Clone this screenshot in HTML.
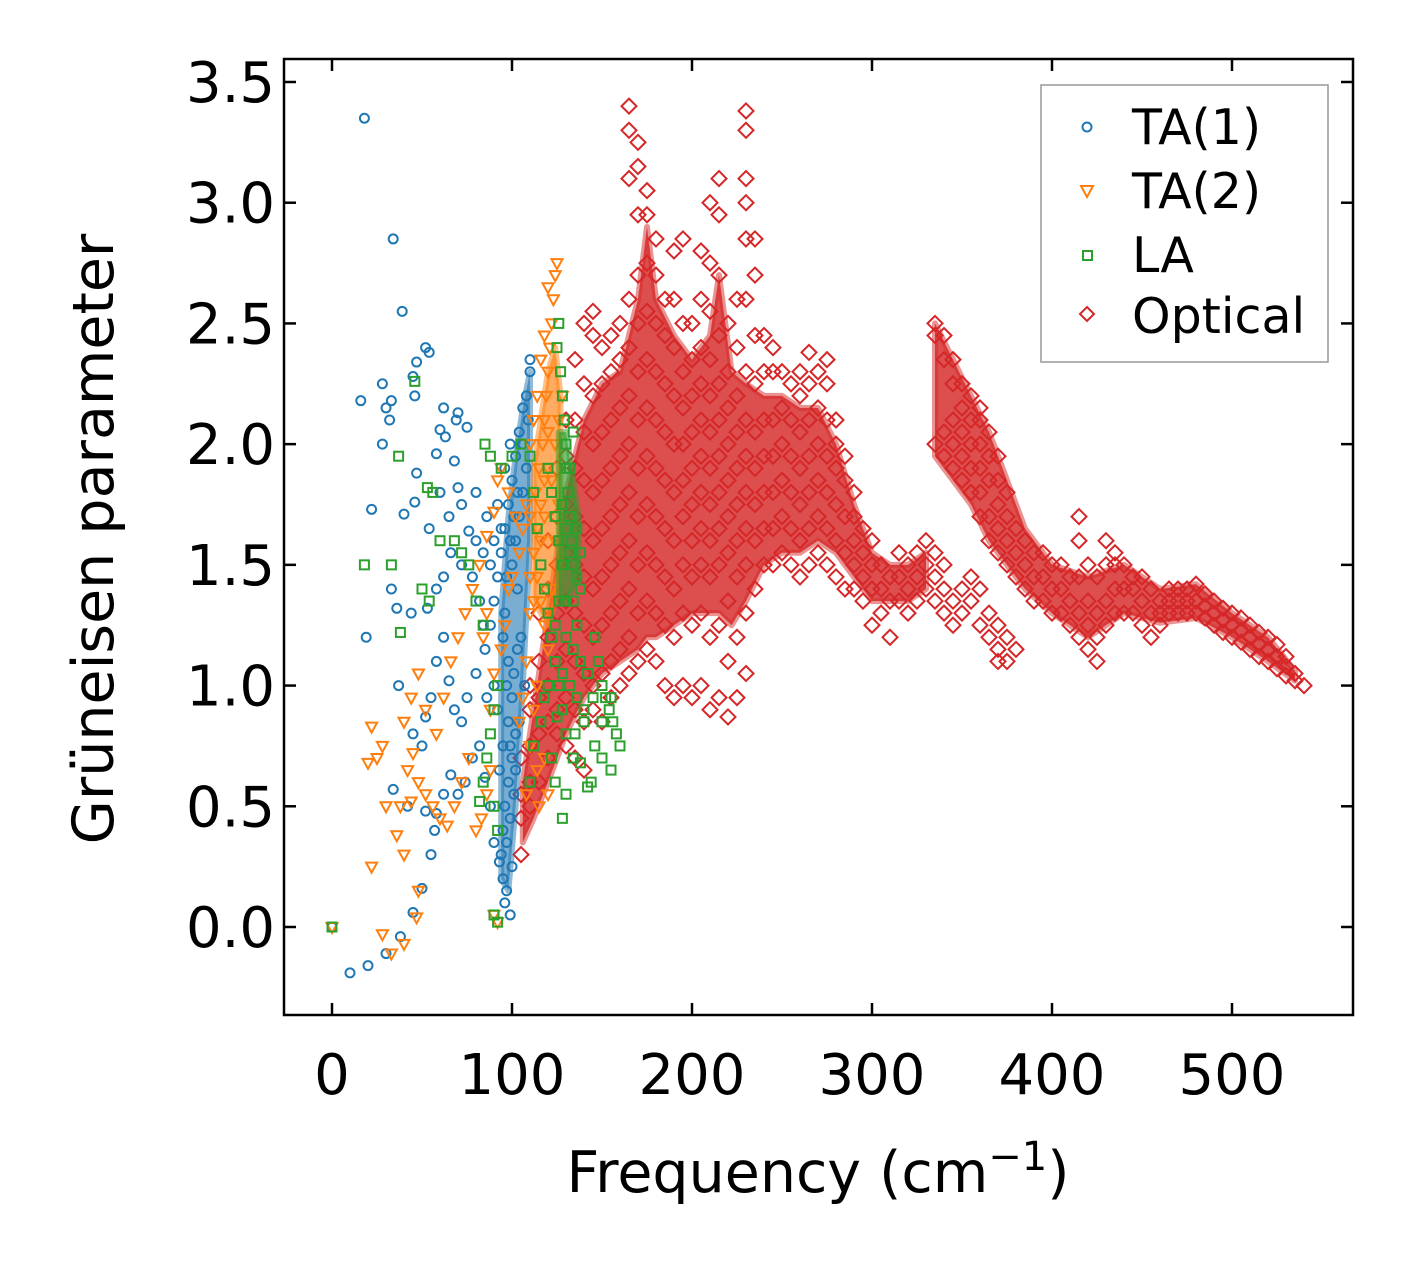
<!DOCTYPE html>
<html><head><meta charset="utf-8">
<style>
html,body{margin:0;padding:0;background:#fff;}
svg{display:block;font-family:"DejaVu Sans","Liberation Sans",sans-serif;}
</style></head>
<body>
<svg id="chart" width="1413" height="1264" viewBox="0 0 1413 1264" xmlns="http://www.w3.org/2000/svg">
<rect x="0" y="0" width="1413" height="1264" fill="#fff"/>
<defs><clipPath id="clip"><rect x="284" y="59" width="1069" height="956"/></clipPath></defs>
<g id="marks" clip-path="url(#clip)"></g>
<rect x="284" y="59" width="1069" height="956" fill="none" stroke="#000" stroke-width="2.5"/>
<g id="axes"></g>
<text x="818" y="1192" font-size="57" text-anchor="middle">Frequency (cm<tspan dy="-22" font-size="40">−1</tspan><tspan dy="22">)</tspan></text>
<text transform="translate(113,539) rotate(-90)" font-size="57" text-anchor="middle">Grüneisen parameter</text>
<g>
<rect x="1041" y="85" width="287" height="277" fill="#fff" stroke="#999" stroke-width="1.5"/>
<circle cx="1087" cy="127" r="4.5" fill="none" stroke="#1f77b4" stroke-width="2"/>
<text x="1132" y="144" font-size="49">TA(1)</text>
<path d="M1081,186 L1093,186 L1087,197 Z" fill="none" stroke="#ff7f0e" stroke-width="2"/>
<text x="1132" y="208" font-size="49">TA(2)</text>
<rect x="1083" y="251" width="9" height="9" fill="none" stroke="#2ca02c" stroke-width="2"/>
<text x="1132" y="272" font-size="49">LA</text>
<path d="M1087,307 L1094,314 L1087,321 L1080,314 Z" fill="none" stroke="#d62728" stroke-width="2"/>
<text x="1132" y="333" font-size="49">Optical</text>
</g>
</svg>
<script>
const xTicks=[0,100,200,300,400,500];
const yTicks=[0.0,0.5,1.0,1.5,2.0,2.5,3.0,3.5];
const ta1=[[0,0],[10,-0.19],[20,-0.16],[30,-0.11],[38,-0.04],[45,0.06],[50,0.16],[55,0.3],[57,0.4],[18,3.35],[34,2.85],[39,2.55],[16,2.18],[28,2.25],[30,2.15],[33,2.18],[32,2.1],[28,2.0],[22,1.73],[52,2.4],[54,2.38],[47,2.34],[45,2.28],[46,2.2],[60,2.06],[62,2.15],[69,2.1],[70,2.13],[58,1.96],[63,2.03],[75,2.07],[47,1.88],[40,1.71],[46,1.76],[54,1.65],[60,1.8],[65,1.7],[70,1.82],[68,1.93],[72,1.75],[76,1.64],[80,1.6],[84,1.55],[88,1.5],[78,1.45],[72,1.5],[66,1.55],[62,1.45],[58,1.4],[53,1.32],[44,1.3],[36,1.32],[33,1.4],[19,1.2],[37,1.0],[45,0.8],[50,0.75],[52,0.87],[55,0.95],[58,1.1],[62,1.2],[65,1.02],[68,0.9],[72,0.85],[75,0.95],[80,1.05],[85,1.15],[88,1.25],[90,1.35],[92,1.45],[94,1.55],[96,1.65],[98,1.75],[100,1.85],[102,1.95],[104,2.05],[106,2.15],[108,2.2],[110,2.3],[110,2.35],[96,1.3],[98,1.1],[100,0.95],[102,0.8],[100,0.7],[98,0.6],[96,0.5],[95,0.4],[94,0.3],[95,0.2],[96,0.1],[97,0.15],[93,0.27],[90,0.35],[88,0.5],[85,0.62],[82,0.75],[78,0.7],[74,0.6],[70,0.55],[66,0.63],[62,0.55],[58,0.47],[52,0.48],[42,0.5],[34,0.57],[100,1.5],[102,1.6],[104,1.7],[106,1.8],[108,1.9],[103,1.4],[105,1.2],[107,1.0],[104,0.85],[101,0.55],[99,0.45],[97,0.35],[92,0.9],[90,1.0],[86,0.95],[84,1.25],[82,1.35],[92,1.75],[94,1.65],[90,1.6],[86,1.7],[80,1.8],[96,1.9],[99,2.0],[106,2.0],[109,2.1],[103,1.15],[101,1.05],[98,0.85],[95,0.75],[93,0.65],[100,0.25],[99,0.05],[97,1.45],[99,1.6],[101,1.7],[103,1.8],[95,1.2],[97,1.0],[99,0.75],[102,0.65]];
const ta2=[[0,0],[22,0.25],[28,-0.03],[33,-0.11],[40,-0.07],[47,0.04],[48,0.15],[40,0.3],[36,0.38],[38,0.5],[44,0.52],[30,0.5],[25,0.7],[20,0.68],[22,0.83],[28,0.75],[40,0.85],[42,0.65],[45,0.72],[48,0.6],[52,0.55],[56,0.5],[60,0.45],[64,0.42],[68,0.5],[72,0.6],[76,0.7],[80,0.4],[83,0.45],[86,0.55],[88,0.65],[62,0.95],[66,1.1],[70,1.2],[74,1.3],[78,1.4],[82,1.5],[86,1.62],[90,1.72],[92,1.85],[94,1.9],[98,1.8],[102,1.7],[106,1.65],[110,1.7],[113,1.8],[115,1.9],[117,2.0],[118,2.1],[119,2.2],[120,2.3],[121,2.4],[122,2.5],[123,2.6],[124,2.7],[125,2.75],[120,2.65],[118,2.45],[116,2.35],[114,2.2],[112,2.1],[110,2.0],[112,1.55],[114,1.45],[116,1.35],[118,1.25],[120,1.15],[122,1.4],[124,1.6],[126,1.75],[110,1.3],[108,1.1],[106,0.95],[104,0.85],[110,0.75],[114,0.65],[118,0.7],[120,0.55],[115,0.5],[108,0.55],[58,0.8],[52,0.9],[48,1.05],[44,0.95],[86,1.3],[84,1.2],[88,0.9],[90,1.05],[94,1.15],[96,1.25],[98,1.4],[100,1.45],[104,1.55],[108,1.75],[120,1.9],[122,1.85],[124,2.0],[126,2.1],[128,2.2],[116,1.6],[118,1.7],[112,0.9],[114,1.0],[92,0.02],[90,0.05],[116,1.75],[118,1.85],[120,2.05],[114,1.65],[112,1.35],[110,1.45]];
const la=[[0,0],[18,1.5],[33,1.5],[38,1.22],[37,1.95],[46,2.26],[53,1.82],[56,1.8],[50,1.4],[54,1.35],[60,1.6],[68,1.6],[72,1.55],[76,1.5],[80,1.35],[84,1.25],[85,2.0],[88,1.95],[94,1.9],[92,1.0],[90,0.9],[88,0.8],[86,0.7],[82,0.52],[84,0.6],[90,0.5],[92,0.4],[90,0.05],[92,0.02],[100,1.95],[105,2.0],[110,1.95],[112,1.8],[114,1.65],[116,1.5],[118,1.4],[120,1.3],[122,1.2],[124,1.1],[126,1.0],[128,0.9],[126,2.5],[125,2.4],[127,2.3],[128,2.2],[129,2.1],[130,2.0],[130,1.9],[131,1.8],[132,1.7],[133,1.6],[134,1.5],[136,1.45],[138,1.4],[130,1.35],[128,1.5],[126,1.6],[124,1.7],[122,1.8],[120,1.9],[124,1.25],[130,1.2],[134,1.15],[138,1.1],[142,1.05],[146,1.2],[148,1.1],[150,1.0],[152,0.95],[154,0.9],[156,0.85],[158,0.8],[160,0.75],[155,0.65],[150,0.7],[146,0.75],[144,0.6],[142,0.58],[138,0.68],[134,0.7],[130,0.55],[128,0.45],[124,0.6],[122,0.7],[125,0.87],[130,0.8],[135,0.8],[140,0.9],[145,0.95],[150,0.85],[155,0.95],[132,1.0],[136,0.95],[140,0.85],[128,1.05],[120,1.0],[118,0.95],[116,0.85],[112,0.75],[110,0.6],[126,1.35],[132,1.9],[134,2.05],[136,1.65],[138,1.55],[128,1.75],[130,1.65],[132,1.55],[134,1.35],[136,1.25]];
// dense cores (x, lower edge, upper edge) of each cloud
const coreX=[106,112,120,130,140,150,160,170,175,180,190,200,210,215,222,230,240,250,260,270,280,290,300,310,320,330];
const coreLo=[0.35,0.45,0.6,0.8,0.95,1.05,1.1,1.15,1.2,1.2,1.25,1.3,1.3,1.3,1.25,1.35,1.5,1.55,1.55,1.6,1.55,1.45,1.35,1.35,1.35,1.4];
const coreHi=[0.6,0.9,1.3,1.8,2.1,2.25,2.3,2.6,2.9,2.6,2.45,2.35,2.45,2.7,2.3,2.25,2.2,2.2,2.15,2.15,2.0,1.75,1.55,1.5,1.5,1.55];
const core2X=[335,345,355,365,375,385,400,420,440,460,480,500,520,535];
const core2Lo=[1.95,1.85,1.75,1.6,1.5,1.4,1.3,1.2,1.3,1.26,1.28,1.2,1.1,1.02];
const core2Hi=[2.5,2.35,2.2,2.05,1.85,1.65,1.5,1.45,1.5,1.4,1.42,1.3,1.2,1.06];
const ta1CoreX=[94,98,102,106,110];
const ta1CoreLo=[0.2,0.15,0.5,1.0,1.6];
const ta1CoreHi=[1.3,1.7,1.95,2.15,2.3];
const ta2CoreX=[112,116,120,124,127];
const ta2CoreLo=[1.35,1.3,1.25,1.35,1.5];
const ta2CoreHi=[1.9,2.1,2.3,2.4,2.2];
const laCoreX=[126,130,134,137];
const laCoreLo=[1.35,1.35,1.4,1.45];
const laCoreHi=[2.05,2.05,1.85,1.7];
const opticalX=[105,110,115,120,125,130,135,140,145,150,155,160,165,170,175,180,185,190,195,200,205,210,215,220,225,230,235,240,245,250,255,260,265,270,275,280,285,290,295,300,305,310,315,320,325,330,335,340,345,350,355,360,365,370,375,380,385,390,395,400,405,410,415,420,425,430,435,440,445,450,455,460,465,470,475,480,485,490,495,500,505,510,515,520,525,530,535,540];
const opticalY=[[0.3,0.45,0.55,0.7],[0.5,0.6,0.75,0.9,1.0],[0.6,0.8,0.95,1.1,1.3],[0.7,0.85,1.0,1.2,1.4,1.6],[0.8,0.9,1.1,1.3,1.5,1.7,1.9],[0.75,0.95,1.15,1.35,1.55,1.75,1.95,2.1],[0.7,0.9,1.1,1.3,1.5,1.7,1.9,2.1,2.35],[0.65,0.85,1.05,1.25,1.45,1.65,1.85,2.05,2.25,2.5],[0.9,1.0,1.2,1.4,1.6,1.8,2.0,2.2,2.45,2.55],[0.85,1.05,1.25,1.45,1.65,1.85,2.05,2.25,2.4],[0.95,1.1,1.3,1.5,1.7,1.9,2.1,2.3,2.45],[1.0,1.15,1.35,1.55,1.75,1.95,2.15,2.35,2.5],[1.05,1.2,1.4,1.6,1.8,2.0,2.2,2.4,2.6,3.1,3.3,3.4],[1.1,1.3,1.5,1.7,1.9,2.1,2.3,2.5,2.7,2.95,3.15,3.25],[1.15,1.35,1.55,1.75,1.95,2.15,2.35,2.55,2.75,2.95,3.05],[1.1,1.3,1.5,1.7,1.9,2.1,2.3,2.5,2.7,2.85],[1.0,1.25,1.45,1.65,1.85,2.05,2.25,2.45,2.6],[0.95,1.2,1.4,1.6,1.8,2.0,2.2,2.4,2.6,2.8],[1.0,1.3,1.5,1.7,1.85,2.0,2.15,2.3,2.5,2.85],[0.95,1.25,1.45,1.6,1.75,1.9,2.05,2.2,2.35,2.5],[1.0,1.3,1.5,1.65,1.8,1.95,2.1,2.25,2.4,2.6,2.8],[0.9,1.2,1.45,1.6,1.75,1.9,2.05,2.2,2.35,2.55,2.75,3.0],[0.95,1.25,1.5,1.65,1.8,1.95,2.1,2.25,2.45,2.7,2.95,3.1],[0.87,1.1,1.35,1.55,1.7,1.85,2.0,2.15,2.3,2.5],[0.95,1.2,1.45,1.6,1.75,1.9,2.05,2.2,2.4,2.6],[1.05,1.3,1.5,1.65,1.8,1.95,2.1,2.3,2.6,2.85,3.0,3.1,3.3,3.38],[1.4,1.6,1.75,1.9,2.05,2.25,2.45,2.7,2.85],[1.5,1.65,1.8,1.95,2.1,2.3,2.45],[1.5,1.65,1.8,1.95,2.1,2.3,2.4],[1.55,1.7,1.85,2.0,2.15,2.3],[1.5,1.65,1.8,1.95,2.1,2.25],[1.45,1.6,1.75,1.9,2.05,2.2,2.3],[1.5,1.65,1.8,1.95,2.1,2.25,2.38],[1.55,1.7,1.85,2.0,2.15,2.3],[1.5,1.65,1.8,1.95,2.1,2.25,2.35],[1.45,1.6,1.75,1.9,2.0,2.1],[1.4,1.55,1.7,1.85,1.95],[1.4,1.5,1.6,1.7,1.8],[1.35,1.45,1.55,1.65],[1.25,1.4,1.5,1.6],[1.3,1.4,1.5],[1.2,1.35,1.45],[1.35,1.45,1.55],[1.3,1.4,1.5],[1.35,1.45,1.55],[1.4,1.5,1.6],[1.35,1.45,1.55,2.0,2.45,2.5],[1.3,1.4,1.5,1.95,2.05,2.35,2.45],[1.25,1.35,1.9,2.0,2.1,2.25,2.35],[1.3,1.4,1.85,1.95,2.05,2.15,2.25],[1.35,1.45,1.8,1.9,2.0,2.1,2.2],[1.25,1.4,1.7,1.8,1.9,2.0,2.1,2.15],[1.2,1.3,1.6,1.7,1.85,1.95,2.05],[1.1,1.15,1.25,1.55,1.65,1.75,1.85,1.95],[1.1,1.2,1.5,1.6,1.7,1.8],[1.15,1.45,1.55,1.65],[1.4,1.5,1.6],[1.35,1.45,1.55],[1.35,1.45,1.55],[1.3,1.4,1.5],[1.3,1.4,1.5],[1.25,1.35,1.45],[1.2,1.3,1.45,1.6,1.7],[1.15,1.25,1.35,1.5],[1.1,1.2,1.3,1.45],[1.25,1.35,1.5,1.6],[1.3,1.4,1.5,1.55],[1.3,1.4,1.5],[1.3,1.4,1.45],[1.25,1.35,1.45],[1.2,1.3,1.4],[1.25,1.3,1.35],[1.3,1.35,1.4],[1.3,1.35,1.4],[1.3,1.35,1.4],[1.3,1.35,1.42],[1.28,1.33,1.38],[1.25,1.3,1.35],[1.22,1.27,1.32],[1.2,1.25,1.3],[1.18,1.23,1.28],[1.15,1.2,1.25],[1.12,1.17,1.22],[1.1,1.15,1.2],[1.07,1.12,1.17],[1.04,1.08,1.12],[1.02,1.05],[1.0]];

const NS='http://www.w3.org/2000/svg';
const X0=332, XS=1.8, Y0=927, YS=241.43;
function sx(v){return X0+v*XS;}
function sy(v){return Y0-v*YS;}
const marks=document.getElementById('marks');
const axes=document.getElementById('axes');
function mk(tag,attrs,parent){const e=document.createElementNS(NS,tag);for(const k in attrs)e.setAttribute(k,attrs[k]);parent.appendChild(e);return e;}
function band(xs,lo,hi){
  let d='';
  xs.forEach((x,i)=>{d+=(i?'L':'M')+sx(x)+','+sy(hi[i])+' ';});
  for(let i=xs.length-1;i>=0;i--){d+='L'+sx(xs[i])+','+sy(lo[i])+' ';}
  return d+'Z';
}
function bandAttrs(xs,lo,hi,col,op){return {d:band(xs,lo,hi),fill:col,'fill-opacity':op,stroke:col,'stroke-width':6,'stroke-opacity':0.5,'stroke-linejoin':'round'};}

const b1=mk('path',bandAttrs(coreX,coreLo,coreHi,'#d62728',0.82),marks);


const b2=mk('path',bandAttrs(core2X,core2Lo,core2Hi,'#d62728',0.82),marks);



opticalX.forEach((x,i)=>{opticalY[i].forEach(y=>{
  const cx=sx(x),cy=sy(y);
  const p=mk('path',{d:`M${cx},${cy-7.5} L${cx+7.5},${cy} L${cx},${cy+7.5} L${cx-7.5},${cy} Z`,fill:'none',stroke:'#d62728','stroke-width':2},marks);
  
  
});});

const b3=mk('path',bandAttrs(ta1CoreX,ta1CoreLo,ta1CoreHi,'#1f77b4',0.6),marks);


ta1.forEach(d=>{
  const c=mk('circle',{cx:sx(d[0]),cy:sy(d[1]),r:4.5,fill:'none',stroke:'#1f77b4','stroke-width':2},marks);
  
  
});
const b4=mk('path',bandAttrs(ta2CoreX,ta2CoreLo,ta2CoreHi,'#ff7f0e',0.65),marks);


ta2.forEach(d=>{
  const cx=sx(d[0]),cy=sy(d[1]);
  const p=mk('path',{d:`M${cx-5.5},${cy-4} L${cx+5.5},${cy-4} L${cx},${cy+6} Z`,fill:'none',stroke:'#ff7f0e','stroke-width':2},marks);
  
  
});
const b5=mk('path',bandAttrs(laCoreX,laCoreLo,laCoreHi,'#2ca02c',0.65),marks);


la.forEach(d=>{
  const r=mk('rect',{x:sx(d[0])-4.5,y:sy(d[1])-4.5,width:9,height:9,fill:'none',stroke:'#2ca02c','stroke-width':2},marks);
  
  
});

xTicks.forEach(v=>{
  const x=sx(v);
  const t1=mk('line',{x1:x,y1:1015,x2:x,y2:1003,stroke:'#000','stroke-width':2.5},axes);
  
  
  const t2=mk('line',{x1:x,y1:59,x2:x,y2:71,stroke:'#000','stroke-width':2.5},axes);
  
  
  const l=mk('text',{x:x,y:1094,'font-size':56,'text-anchor':'middle'},axes);
  l.textContent=String(v);
  
  
});
yTicks.forEach(v=>{
  const y=sy(v);
  const t1=mk('line',{x1:284,y1:y,x2:296,y2:y,stroke:'#000','stroke-width':2.5},axes);
  
  
  const t2=mk('line',{x1:1353,y1:y,x2:1341,y2:y,stroke:'#000','stroke-width':2.5},axes);
  
  
  const l=mk('text',{x:275,y:y+20,'font-size':56,'text-anchor':'end'},axes);
  l.textContent=v.toFixed(1);
  
  
});
</script>
</body></html>
